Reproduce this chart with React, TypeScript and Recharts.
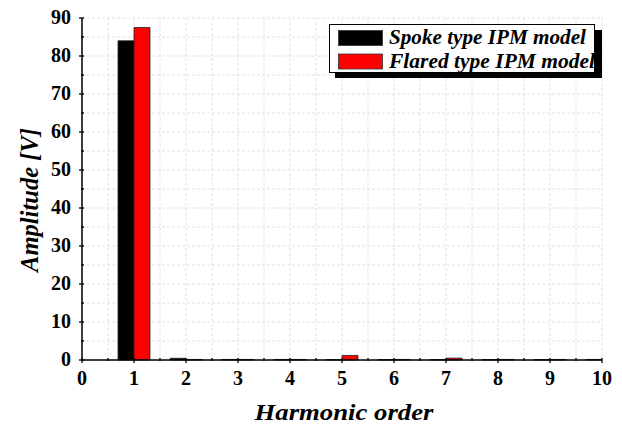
import React from 'react';
import { ComposedChart, Bar, XAxis, YAxis, CartesianGrid } from 'recharts';

const harmonics = [1, 2, 3, 4, 5, 6, 7, 8, 9, 10];
const spokeValues = [84.0, 0.45, 0.15, 0.15, 0.1, 0.1, 0.1, 0.1, 0.1, 0.15];
const flaredValues = [87.5, 0.15, 0.15, 0.15, 1.2, 0.15, 0.5, 0.15, 0.15, 0.15];
const xTicks = [0, 0.5, 1, 1.5, 2, 2.5, 3, 3.5, 4, 4.5, 5, 5.5, 6, 6.5, 7, 7.5, 8, 8.5, 9, 9.5, 10];
const yTicks = [0, 5, 10, 15, 20, 25, 30, 35, 40, 45, 50, 55, 60, 65, 70, 75, 80, 85, 90];
const seriesNames = ['Spoke type IPM model', 'Flared type IPM model'];
const seriesColors = ['#000000', '#ff0000'];
const xLabel = 'Harmonic order';
const yLabel = 'Amplitude [V]';

const data = harmonics.map((h, i) => ({ h, spoke: spokeValues[i], flared: flaredValues[i] }));

const FONT = "'Liberation Serif', 'Times New Roman', serif";
const textStyle = (size: number, italic: boolean) => ({
  fontFamily: FONT,
  fontWeight: 700,
  fontStyle: italic ? 'italic' : 'normal',
  fontSize: size,
  fill: '#000',
});

const YTick = (props: any) => {
  const { x, y, payload } = props;
  const v = payload.value;
  const major = v % 10 === 0;
  const ax = x + 10;
  return (
    <g>
      <line x1={ax} x2={ax - (major ? 5 : 3)} y1={y} y2={y} stroke="#000" strokeWidth={1.3} />
      {major && (
        <text x={ax - 13} y={y} dy={5.5} textAnchor="end" style={textStyle(20, false)}>
          {v}
        </text>
      )}
    </g>
  );
};

const XTick = (props: any) => {
  const { x, y, payload } = props;
  const v = payload.value;
  const major = Number.isInteger(v);
  const ay = y - 10;
  return (
    <g>
      <line x1={x} x2={x} y1={ay} y2={ay + (major ? 5 : 3)} stroke="#000" strokeWidth={1.3} />
      {major && (
        <text x={x} y={385} textAnchor="middle" style={textStyle(20, false)}>
          {v}
        </text>
      )}
    </g>
  );
};

const XLabel = (props: any) => {
  const vb = props.viewBox || { x: 82, y: 360, width: 520, height: 64 };
  const cx = vb.x + vb.width / 2 + 2;
  return (
    <text x={cx} y={420} textAnchor="middle" style={textStyle(24, true)} textLength={179} lengthAdjust="spacingAndGlyphs">
      {xLabel}
    </text>
  );
};

const YLabel = (props: any) => {
  const vb = props.viewBox || { x: 0, y: 18, width: 82, height: 342 };
  const cy = vb.y + vb.height / 2 + 11;
  const cx = 38;
  return (
    <text x={cx} y={cy} transform={`rotate(-90 ${cx} ${cy})`} textAnchor="middle" style={textStyle(25, true)} textLength={144} lengthAdjust="spacingAndGlyphs">
      {yLabel}
    </text>
  );
};

const LegendBox = () => (
  <svg width={290} height={70} style={{ position: 'absolute', left: 329, top: 24, overflow: 'visible' }}>
    <rect x={6} y={6} width={267} height={48} fill="#000" />
    <rect x={0.5} y={0.5} width={265} height={48} fill="#fff" stroke="#000" strokeWidth={1} />
    {seriesNames.map((n, i) => (
      <g key={n}>
        <rect x={9.5} y={6.5 + i * 23.5} width={44} height={15} fill={seriesColors[i]} stroke="#333" strokeWidth={0.8} />
        <text x={60} y={20 + i * 23.5} style={textStyle(20, true)} textLength={i === 0 ? 197 : 206} lengthAdjust="spacingAndGlyphs">
          {n}
        </text>
      </g>
    ))}
  </svg>
);

export default function App() {
  return (
    <div style={{ position: 'absolute', left: 0, top: 0, width: 622, height: 424, background: '#fff' }}>
      <ComposedChart width={622} height={424} data={data} margin={{ top: 18, right: 20, bottom: 0, left: 0 }} barGap={0}>
        <CartesianGrid stroke="#e2e2e2" strokeDasharray="3 2" />
        <XAxis
          dataKey="h"
          type="number"
          domain={[0, 10]}
          ticks={xTicks}
          interval={0}
          allowDataOverflow
          height={64}
          axisLine={{ stroke: '#000', strokeWidth: 1.5 }}
          tickLine={false}
          tick={<XTick />}
          label={<XLabel />}
        />
        <XAxis xAxisId="top" orientation="top" type="number" domain={[0, 10]} height={0} tick={false} tickLine={false} axisLine={{ stroke: '#000', strokeWidth: 1.5 }} />
        <YAxis
          type="number"
          domain={[0, 90]}
          ticks={yTicks}
          interval={0}
          width={82}
          axisLine={{ stroke: '#000', strokeWidth: 1.5 }}
          tickLine={false}
          tick={<YTick />}
          label={<YLabel />}
        />
        <YAxis yAxisId="right" orientation="right" width={0} tick={false} tickLine={false} axisLine={{ stroke: '#000', strokeWidth: 1.5 }} />
        <Bar dataKey="spoke" name={seriesNames[0]} fill={seriesColors[0]} stroke="#222" strokeWidth={0.8} barSize={16} isAnimationActive={false} />
        <Bar dataKey="flared" name={seriesNames[1]} fill={seriesColors[1]} stroke="#222" strokeWidth={0.8} barSize={16} isAnimationActive={false} />
      </ComposedChart>
      <LegendBox />
    </div>
  );
}
